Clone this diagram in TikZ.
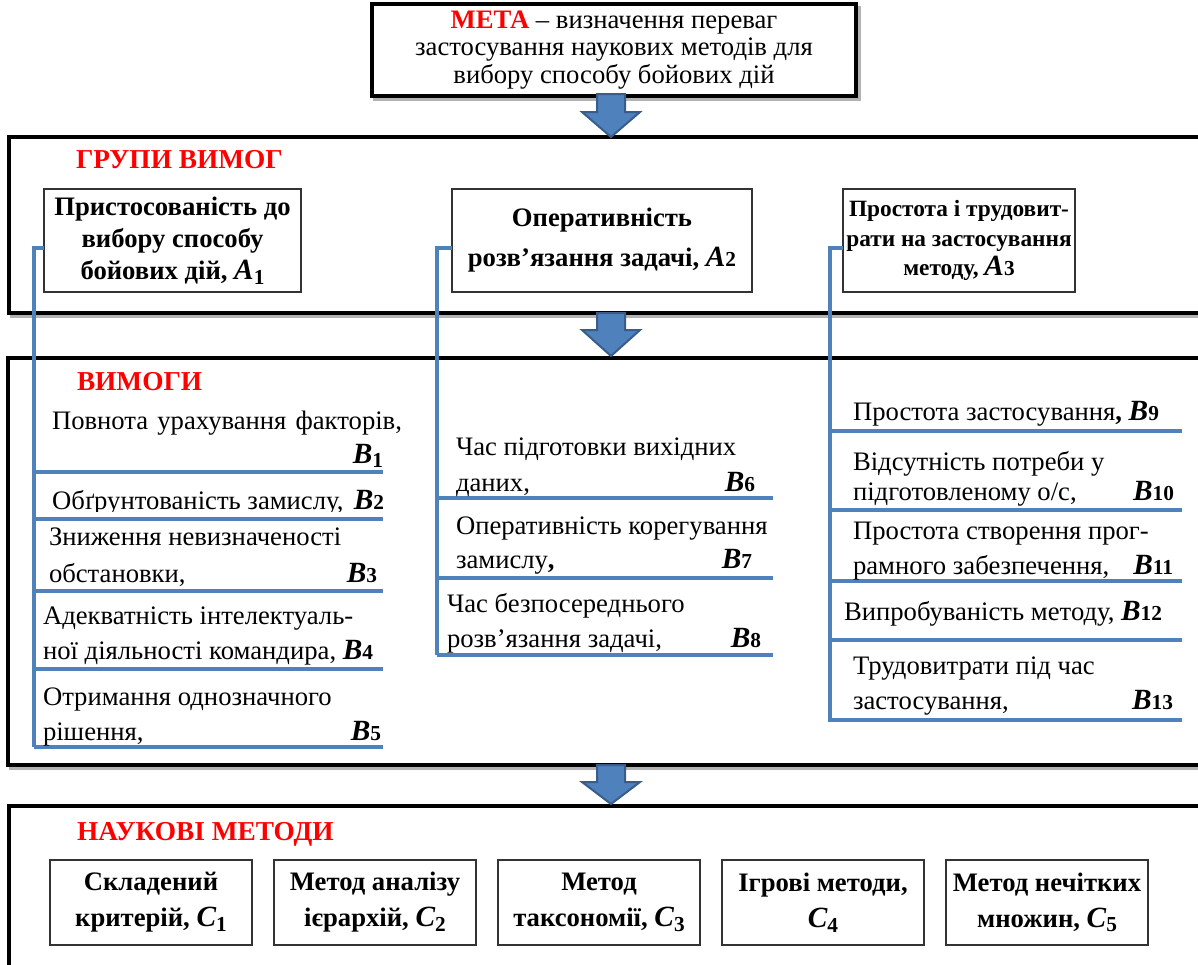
\documentclass[tikz,border=0pt]{standalone}
\usepackage{fontspec}
\setmainfont{Liberation Serif}
\usetikzlibrary{calc}
\definecolor{lineblue}{HTML}{4F81BD}
\definecolor{arrowedge}{HTML}{385D8A}
\definecolor{titlered}{HTML}{FF0000}
\newcommand{\BLab}[2]{{\fontsize{22}{24}\selectfont\bfseries\itshape #1}{\fontsize{16}{18}\selectfont\bfseries #2}}
\newcommand{\BSub}[2]{{\fontsize{22}{24}\selectfont\bfseries\itshape #1}\raisebox{-3.5pt}{\fontsize{16}{18}\selectfont\bfseries #2}}
\begin{document}
\begin{tikzpicture}[x=0.75pt,y=-0.75pt,
  every node/.style={inner sep=0pt, outer sep=0pt, font=\fontsize{20}{23}\selectfont},
  ln/.style={anchor=base west},
  lab/.style={anchor=base east},
  redtitle/.style={anchor=base west, text=titlered, font=\fontsize{20.5}{23}\selectfont\bfseries},
  bigbox/.style={draw=black, line width=2.5pt},
  shadowline/.style={draw=black!30, line width=2.5pt},
  hbox/.style={draw=black!80, line width=1.2pt, align=center, font=\fontsize{20}{24}\selectfont\bfseries},
  cbox/.style={hbox, minimum width=151.5pt, minimum height=63.75pt, font=\fontsize{20}{27}\selectfont\bfseries},
  bline/.style={draw=lineblue, line width=2.6pt},
  blockarrow/.style={fill=lineblue, draw=arrowedge, line width=1.5pt, line join=miter}
]
\useasboundingbox (0,0) rectangle (1198,964);
\clip (0,0) rectangle (1198,964);

% shadows
\draw[shadowline] (375,8) rectangle (859,99);
\draw[shadowline] (12,140) rectangle (1213,316);
\draw[shadowline] (11,361) rectangle (1213,768);
\draw[shadowline] (12,809) rectangle (1213,1003);

% main boxes
\node[bigbox, fill=white, minimum width=363pt, minimum height=69pt, align=center,
      font=\fontsize{20}{20.6}\selectfont] (meta) at (614,50)
  {{\color{titlered}\bfseries МЕТА} -- визначення переваг\\застосування наукових методів для\\вибору способу бойових дій};
\node[bigbox, fill=white, minimum width=900.75pt, minimum height=132pt] (grp1) at (609.5,225) {};
\node[bigbox, fill=white, minimum width=901.5pt, minimum height=305.25pt] (grp2) at (609,561.5) {};
\node[bigbox, fill=white, minimum width=900.75pt, minimum height=145.5pt] (grp3) at (609.5,903) {};

% block arrows
\path[blockarrow] ($(meta.south)+(-17,-2)$) -- ++(28,0) -- ++(0,18) -- ++(15,0)
  -- ($(meta.south |- grp1.north)+(-3,0)$) -- ($(meta.south)+(-32,16)$) -- ++(15,0) -- cycle;
\path[blockarrow] ($(meta.south |- grp1.south)+(-17,0)$) -- ++(28,0) -- ++(0,17) -- ++(15,0)
  -- ($(meta.south |- grp2.north)+(-3,-2)$) -- ($(meta.south |- grp1.south)+(-32,17)$) -- ++(15,0) -- cycle;
\path[blockarrow] ($(meta.south |- grp2.south)+(-17,0)$) -- ++(28,0) -- ++(0,17) -- ++(15,0)
  -- ($(meta.south |- grp3.north)+(-3,-2)$) -- ($(meta.south |- grp2.south)+(-32,17)$) -- ++(15,0) -- cycle;

% titles
\node[redtitle] (tg1) at (76,168) {ГРУПИ ВИМОГ};
\node[redtitle] (tg2) at (77,390) {ВИМОГИ};
\node[redtitle] (tg3) at (77,840) {НАУКОВІ МЕТОДИ};

% group boxes A
\node[hbox, fill=white, minimum width=192.75pt, minimum height=77.25pt] (A1) at (172.5,240.5)
  {Пристосованість до\\вибору способу\\бойових дій, \BSub{A}{1}};
\node[hbox, fill=white, minimum width=225pt, minimum height=77.25pt, font=\fontsize{20}{30}\selectfont\bfseries] (A2) at (602,240.5)
  {Оперативність\\розв’язання задачі, \BLab{A}{2}};
\node[hbox, fill=white, minimum width=174pt, minimum height=77.25pt, font=\fontsize{17.5}{22}\selectfont\bfseries] (A3) at (959,240.5)
  {Простота і трудовит-\\рати на застосування\\методу, \BLab{A}{3}};

% blue connector lines
\coordinate (c1b) at (34,747);
\coordinate (c2b) at (437,655);
\coordinate (c3b) at (830,722);
\coordinate (e11) at (383,472);
\coordinate (e12) at (383,519);
\coordinate (e13) at (383,591);
\coordinate (e14) at (383,669);
\coordinate (e15) at (383,747);
\coordinate (e21) at (773,498);
\coordinate (e22) at (773,578);
\coordinate (e23) at (773,655);
\coordinate (e31) at (1182,431);
\coordinate (e32) at (1182,510);
\coordinate (e33) at (1182,581);
\coordinate (e34) at (1182,640);
\coordinate (e35) at (1182,720);

\draw[bline] ($(A1.west)+(0,7.5)$) -| (c1b);
\draw[bline] ($(A2.west)+(0,7.5)$) -| (c2b);
\draw[bline] ($(A3.west)+(0,7.5)$) -| (c3b);
\foreach \e in {e11,e12,e13,e14,e15} { \draw[bline] (c1b |- \e) -- (\e); }
\foreach \e in {e21,e22,e23} { \draw[bline] (c2b |- \e) -- (\e); }
\foreach \e in {e31,e32,e33,e34,e35} { \draw[bline] (c3b |- \e) -- (\e); }

% column 1 texts
\node[ln] (t1a) at (52,429) {\makebox[262.5pt][s]{Повнота урахування факторів,}};
\node[lab] (t1b) at (383,463) {\BSub{B}{1}};
\begin{scope}
  \clip (40,478) rectangle (400,511);
  \node[ln] (t2a) at (52,509) {Обґрунтованість замислу,};
  \node[lab] (t2b) at (384,509) {\BLab{B}{2}};
\end{scope}
\node[ln] (t3a) at (49,545) {Зниження невизначеності};
\node[ln] (t3b) at (49,582) {обстановки,};
\node[lab] (t3c) at (377,582) {\BLab{B}{3}};
\node[ln] (t4a) at (43,624) {Адекватність інтелектуаль-};
\node[ln] (t4b) at (43,659) {ної діяльності командира, \BLab{B}{4}};
\node[ln] (t5a) at (43,705) {Отримання однозначного};
\node[ln] (t5b) at (43,740) {рішення,};
\node[lab] (t5c) at (381,740) {\BLab{B}{5}};

% column 2 texts
\node[ln] (t6a) at (456,455) {Час підготовки вихідних};
\node[ln] (t6b) at (456,491) {даних,};
\node[lab] (t6c) at (755,491) {\BLab{B}{6}};
\node[ln] (t7a) at (456,534) {Оперативність корегування};
\node[ln] (t7b) at (456,568) {замислу\textbf{,}};
\node[lab] (t7c) at (752,568) {\BLab{B}{7}};
\node[ln] (t8a) at (447,612) {Час безпосереднього};
\node[ln] (t8b) at (447,647) {розв'язання задачі,};
\node[lab] (t8c) at (761,647) {\BLab{B}{8}};

% column 3 texts
\node[ln] (t9a) at (853,420) {Простота застосування\textbf{,} \BLab{B}{9}};
\node[ln] (t10a) at (853,470) {Відсутність потреби у};
\node[ln] (t10b) at (853,500) {підготовленому о/с,};
\node[lab] (t10c) at (1174,500) {\BLab{B}{10}};
\node[ln] (t11a) at (853,539) {Простота створення прог-};
\node[ln] (t11b) at (853,574) {рамного забезпечення,};
\node[lab] (t11c) at (1173,574) {\BLab{B}{11}};
\node[ln] (t12a) at (844,620) {Випробуваність методу, \BLab{B}{12}};
\node[ln] (t13a) at (853,674) {Трудовитрати під час};
\node[ln] (t13b) at (853,709) {застосування,};
\node[lab] (t13c) at (1173,709) {\BLab{B}{13}};

% methods
\node[cbox] (C1) at (151,902.5) {Складений\\критерій, \BSub{C}{1}};
\node[cbox] (C2) at (375,902.5) {Метод аналізу\\ієрархій, \BSub{C}{2}};
\node[cbox] (C3) at (599,902.5) {Метод\\таксономії, \BSub{C}{3}};
\node[cbox] (C4) at (823,902.5) {Ігрові методи,\\\BSub{C}{4}};
\node[cbox] (C5) at (1047,902.5) {Метод нечітких\\множин, \BSub{C}{5}};
\end{tikzpicture}
\end{document}
